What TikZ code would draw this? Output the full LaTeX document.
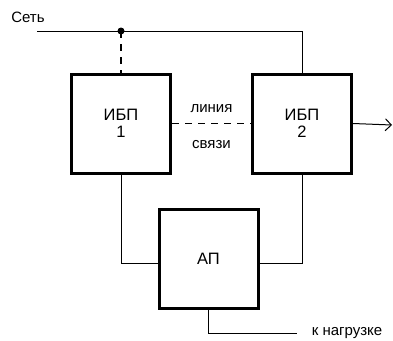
\documentclass[tikz,border=0pt]{standalone}
\usepackage{fontspec}
\setmainfont{Liberation Sans}
\usetikzlibrary{arrows.meta}
\begin{document}
\begin{tikzpicture}[x=1pt, y=-1pt, line width=1pt,
    unit/.style={draw, line width=3pt, minimum size=99pt, inner sep=0pt, align=center, font=\fontsize{16.5}{17}\selectfont},
    lbl/.style={font=\fontsize{15}{16}\selectfont},
    link/.style={line width=1.5pt, dash pattern=on 7pt off 6pt}]
    \useasboundingbox (0,0) rectangle (393,340);
    % Blocks
    \node[unit] (U1) at (121,123.5) {ИБП\\1};
    \node[unit] (U2) at (302,123.5) {ИБП\\2};
    \node[unit] (AP) at (208.5,259) {АП};
    \node[lbl] (net) at (28,17) {Сеть};
    \node[lbl] (link1) at (211.5,109) {линия};
    \node[lbl] (link2) at (211.5,145) {связи};
    \node[lbl, anchor=west] (load) at (308,333) {к нагрузке};
    \coordinate (N0) at (37,31);
    \coordinate (dot) at (121,31);
    \coordinate (out) at (392,125);
    \coordinate (L0) at (297,333);
    % Connections
    \fill (dot) circle (3.5pt);
    \draw (N0) -| (U2.north);
    \draw[link] (dot) -- (U1.north);
    \draw[link] (U1.east) -- (U2.west);
    \draw[-{Straight Barb[length=6pt, width=12pt]}] (U2.east) -- (out);
    \draw (U1.south) |- ([yshift=-4pt]AP.west);
    \draw (U2.south) |- ([yshift=-4pt]AP.east);
    \draw (AP.south) |- (L0);
\end{tikzpicture}
\end{document}
